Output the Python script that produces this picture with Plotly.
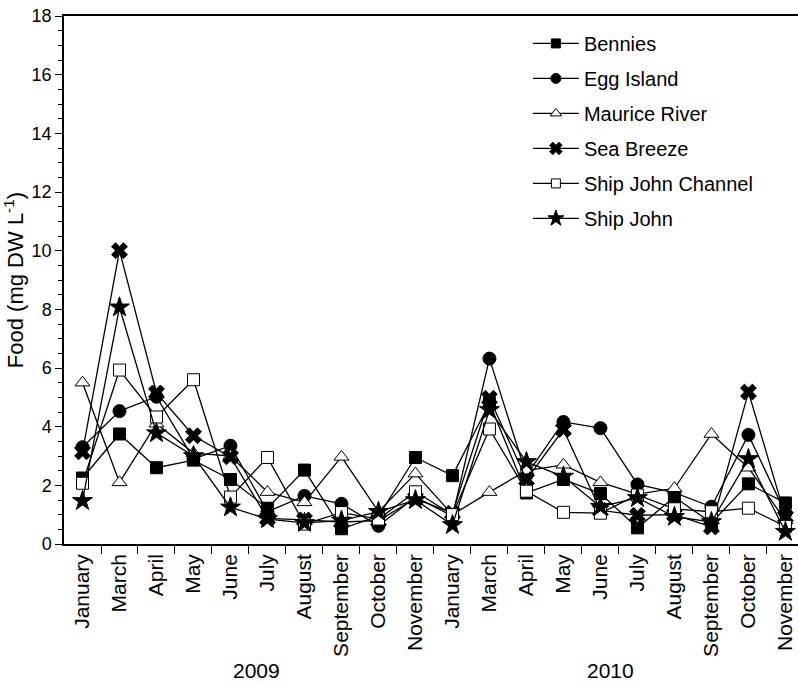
import plotly.graph_objects as go

# Sampling months for the two survey years
months = ["January", "March", "April", "May", "June", "July", "August",
          "September", "October", "November"]
month_labels = months + months
years = ["2009", "2010"]

# Food concentration (mg DW L-1) per site
bennies = [2.25, 3.75, 2.6, 2.86, 2.2, 1.22, 2.52, 0.52, 0.95, 2.95,
           2.33, 4.8, 1.74, 2.2, 1.72, 0.55, 1.6, 0.72, 2.05, 1.4]
egg_island = [3.3, 4.53, 5.02, 2.9, 3.35, 1.1, 1.64, 1.37, 0.62, 1.6,
              0.95, 6.32, 2.35, 4.16, 3.95, 2.03, 1.75, 1.27, 3.72, 1.05]
maurice_river = [5.5, 2.1, 4.1, 3.1, 3.0, 1.77, 1.42, 2.97, 1.1, 2.4,
                 1.0, 1.77, 2.5, 2.7, 2.1, 1.7, 1.9, 3.75, 2.6, 0.8]
sea_breeze = [3.14, 10.0, 5.15, 3.69, 2.97, 0.87, 0.82, 0.75, 0.8, 1.55,
              1.05, 4.97, 2.2, 3.9, 1.15, 0.98, 1.0, 0.58, 5.18, 0.93]
ship_john_channel = [2.07, 5.93, 4.33, 5.6, 1.6, 2.95, 0.68, 1.07, 0.85, 1.78,
                     1.0, 3.92, 1.8, 1.08, 1.05, 1.67, 1.2, 1.1, 1.22, 0.6]
ship_john = [1.47, 8.07, 3.78, 3.0, 1.25, 0.85, 0.72, 0.8, 1.1, 1.5,
             0.65, 4.57, 2.8, 2.3, 1.27, 1.57, 0.93, 0.75, 2.9, 0.42]

x = list(range(len(month_labels)))

# name, values, symbol, fill, plot marker size, legend marker size
series = [
    ("Bennies", bennies, "square", "black", 12, 9),
    ("Egg Island", egg_island, "circle", "black", 13, 10),
    ("Maurice River", maurice_river, "triangle-up", "white", 13, 10),
    ("Sea Breeze", sea_breeze, "x", "black", 14, 11),
    ("Ship John Channel", ship_john_channel, "square", "white", 12, 9),
    ("Ship John", ship_john, "star", "black", 15, 12),
]

FONT = "Liberation Sans, Arial, Helvetica, sans-serif"

fig = go.Figure()
for i, (name, vals, sym, fill, size, lsize) in enumerate(series):
    fig.add_trace(go.Scatter(
        x=x, y=vals, name=name, mode="lines+markers",
        legendgroup=f"g{i}", showlegend=False,
        line=dict(color="black", width=1.3),
        marker=dict(symbol=sym, size=size, color=fill,
                    line=dict(color="black", width=1)),
    ))
    # legend key with a smaller marker
    fig.add_trace(go.Scatter(
        x=[None], y=[None], name=name, mode="lines+markers",
        legendgroup=f"g{i}", showlegend=True,
        line=dict(color="black", width=1.3),
        marker=dict(symbol=sym, size=lsize, color=fill,
                    line=dict(color="black", width=1)),
    ))

fig.update_layout(
    width=798, height=683,
    margin=dict(l=64, r=0, t=16, b=139),
    paper_bgcolor="white", plot_bgcolor="white",
    font=dict(family=FONT, color="black", size=18),
    showlegend=True,
    legend=dict(x=0.632, y=0.985, xanchor="left", yanchor="top",
                font=dict(size=20, family=FONT), itemwidth=46,
                tracegroupgap=6, bgcolor="rgba(0,0,0,0)"),
)

fig.update_xaxes(
    range=[-0.5, 19.34], showgrid=False, zeroline=False,
    showline=True, linecolor="black", linewidth=1.5, mirror=True,
    tickmode="array", tickvals=x, ticktext=month_labels,
    ticks="", tickangle=-90, tickfont=dict(size=21),
    minor=dict(tickmode="array", tickvals=[v + 0.5 for v in x[:-1]],
               ticks="outside", ticklen=8, tickcolor="black", tickwidth=1),
)
fig.update_yaxes(
    range=[0, 18], dtick=2, showgrid=False, zeroline=False,
    showline=True, linecolor="black", linewidth=1.5,
    ticks="outside", ticklen=7, tickcolor="black", tickwidth=1,
    tickfont=dict(size=18),
    minor=dict(dtick=0.5, ticks="outside", ticklen=4, tickcolor="black"),
    title=dict(text="Food (mg DW L<sup>-1</sup>)", font=dict(size=22), standoff=6),
    automargin=False,
)

# Year labels under each block of months
for xc, yr in zip([4.7, 14.26], years):
    fig.add_annotation(x=xc, y=-0.24, xref="x", yref="paper", text=yr,
                       showarrow=False, font=dict(size=21),
                       xanchor="center", yanchor="middle")

fig.write_html("out.html")
